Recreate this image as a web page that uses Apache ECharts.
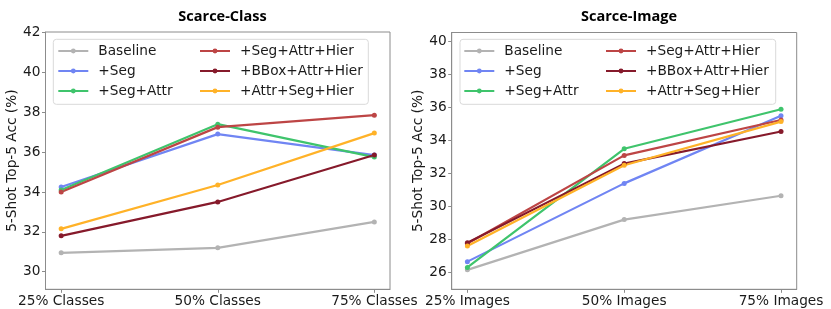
<!DOCTYPE html>
<html>
<head>
<meta charset="utf-8">
<script src="https://cdn.jsdelivr.net/npm/echarts@6/dist/echarts.min.js"></script>
<style>html,body{margin:0;padding:0;background:#fff}#c{width:831px;height:309px}</style>
</head>
<body>
<div id="c"></div>
<script>
var classCats = ['25% Classes', '50% Classes', '75% Classes'];
var imageCats = ['25% Images', '50% Images', '75% Images'];
var seriesNames = ['Baseline', '+Seg', '+Seg+Attr', '+Seg+Attr+Hier', '+BBox+Attr+Hier', '+Attr+Seg+Hier'];
var classBaseline = [30.95, 31.2, 32.5];
var classSeg = [34.25, 36.9, 35.85];
var classSegAttr = [34.1, 37.4, 35.75];
var classSegAttrHier = [34.0, 37.25, 37.85];
var classBBoxAttrHier = [31.8, 33.5, 35.85];
var classAttrSegHier = [32.15, 34.35, 36.95];
var imageBaseline = [26.15, 29.2, 30.65];
var imageSeg = [26.65, 31.4, 35.5];
var imageSegAttr = [26.3, 33.5, 35.9];
var imageSegAttrHier = [27.75, 33.1, 35.25];
var imageBBoxAttrHier = [27.8, 32.6, 34.55];
var imageAttrSegHier = [27.6, 32.5, 35.15];
var classTicks = [30, 32, 34, 36, 38, 40, 42];
var imageTicks = [26, 28, 30, 32, 34, 36, 38, 40];
var titles = ['Scarce-Class', 'Scarce-Image'];
var yName = '5-Shot Top-5 Acc (%)';

var colors = ['#b3b3b3', '#7085f3', '#3fc46c', '#bd4545', '#861a2b', '#ffb228'];
var classVals = [classBaseline, classSeg, classSegAttr, classSegAttrHier, classBBoxAttrHier, classAttrSegHier];
var imageVals = [imageBaseline, imageSeg, imageSegAttr, imageSegAttrHier, imageBBoxAttrHier, imageAttrSegHier];

var FONT = 'DejaVu Sans';
var FS = 13.7;
var axisColor = '#8c8c8c';

function xAxis(gi, cats) {
  return {
    type: 'value', gridIndex: gi, min: -0.1, max: 2.1,
    axisLine: {show: true, onZero: false, lineStyle: {color: axisColor, width: 1}},
    axisTick: {show: true, length: 3.5, customValues: [0, 1, 2], lineStyle: {color: axisColor}},
    axisLabel: {customValues: [0, 1, 2], fontFamily: FONT, fontSize: FS, color: '#1a1a1a', margin: 5,
      formatter: function (v) { return cats[Math.round(v)]; }},
    splitLine: {show: false}
  };
}
function yAxis(gi, mn, mx, ticks, gap) {
  return {
    type: 'value', gridIndex: gi, min: mn, max: mx,
    name: yName, nameLocation: 'middle', nameGap: gap, nameRotate: 90,
    nameTextStyle: {fontFamily: FONT, fontSize: FS, color: '#1a1a1a'},
    axisLine: {show: true, onZero: false, lineStyle: {color: axisColor, width: 1}},
    axisTick: {show: true, length: 3.5, customValues: ticks, lineStyle: {color: axisColor}},
    axisLabel: {customValues: ticks, fontFamily: FONT, fontSize: FS, color: '#1a1a1a', margin: 5},
    splitLine: {show: false}
  };
}

var series = [];
[classVals, imageVals].forEach(function (set, gi) {
  set.forEach(function (vals, si) {
    series.push({
      name: seriesNames[si], type: 'line', xAxisIndex: gi, yAxisIndex: gi,
      data: vals.map(function (v, i) { return [i, v]; }),
      symbol: 'circle', symbolSize: 5, showSymbol: true,
      lineStyle: {color: colors[si], width: 2.2},
      itemStyle: {color: colors[si]},
      emphasis: {disabled: true}, animation: false
    });
  });
});

function legend(left, names) {
  return {
    left: left - 5, top: 39, orient: 'vertical', data: names,
    itemWidth: 30, itemHeight: 6, itemGap: 6,
    selectedMode: false,
    textStyle: {fontFamily: FONT, fontSize: FS, color: '#1a1a1a', lineHeight: 14, padding: [0, 0, 0, 5]}
  };
}

var chart = echarts.init(document.getElementById('c'), null, {renderer: 'canvas'});
chart.setOption({
  animation: false,
  color: colors,
  title: [
    {text: titles[0], left: 217.5, top: 4, textAlign: 'center',
      textStyle: {fontFamily: 'Open Sans', fontWeight: 'bold', fontSize: 14.5, color: '#000'}},
    {text: titles[1], left: 624, top: 4, textAlign: 'center',
      textStyle: {fontFamily: 'Open Sans', fontWeight: 'bold', fontSize: 14.5, color: '#000'}}
  ],
  grid: [
    {left: 45.5, top: 32, width: 344.5, height: 257.3, show: true, borderColor: axisColor, borderWidth: 1, backgroundColor: 'transparent'},
    {left: 451.7, top: 32.5, width: 345, height: 256.8, show: true, borderColor: axisColor, borderWidth: 1, backgroundColor: 'transparent'}
  ],
  xAxis: [xAxis(0, classCats), xAxis(1, imageCats)],
  yAxis: [yAxis(0, 29.12, 42.02, classTicks, 26), yAxis(1, 24.97, 40.56, imageTicks, 26)],
  legend: [
    legend(57.3, seriesNames.slice(0, 3)),
    legend(199, seriesNames.slice(3)),
    legend(463.3, seriesNames.slice(0, 3)),
    legend(605, seriesNames.slice(3))
  ],
  graphic: [
    {type: 'rect', shape: {x: 53.3, y: 39.3, width: 315, height: 65, r: 3}, z: 0,
      style: {fill: 'rgba(255,255,255,0.8)', stroke: '#d9d9d9', lineWidth: 1}},
    {type: 'rect', shape: {x: 460, y: 39.3, width: 315.7, height: 65, r: 3}, z: 0,
      style: {fill: 'rgba(255,255,255,0.8)', stroke: '#d9d9d9', lineWidth: 1}}
  ],
  series: series
});
</script>
</body>
</html>
